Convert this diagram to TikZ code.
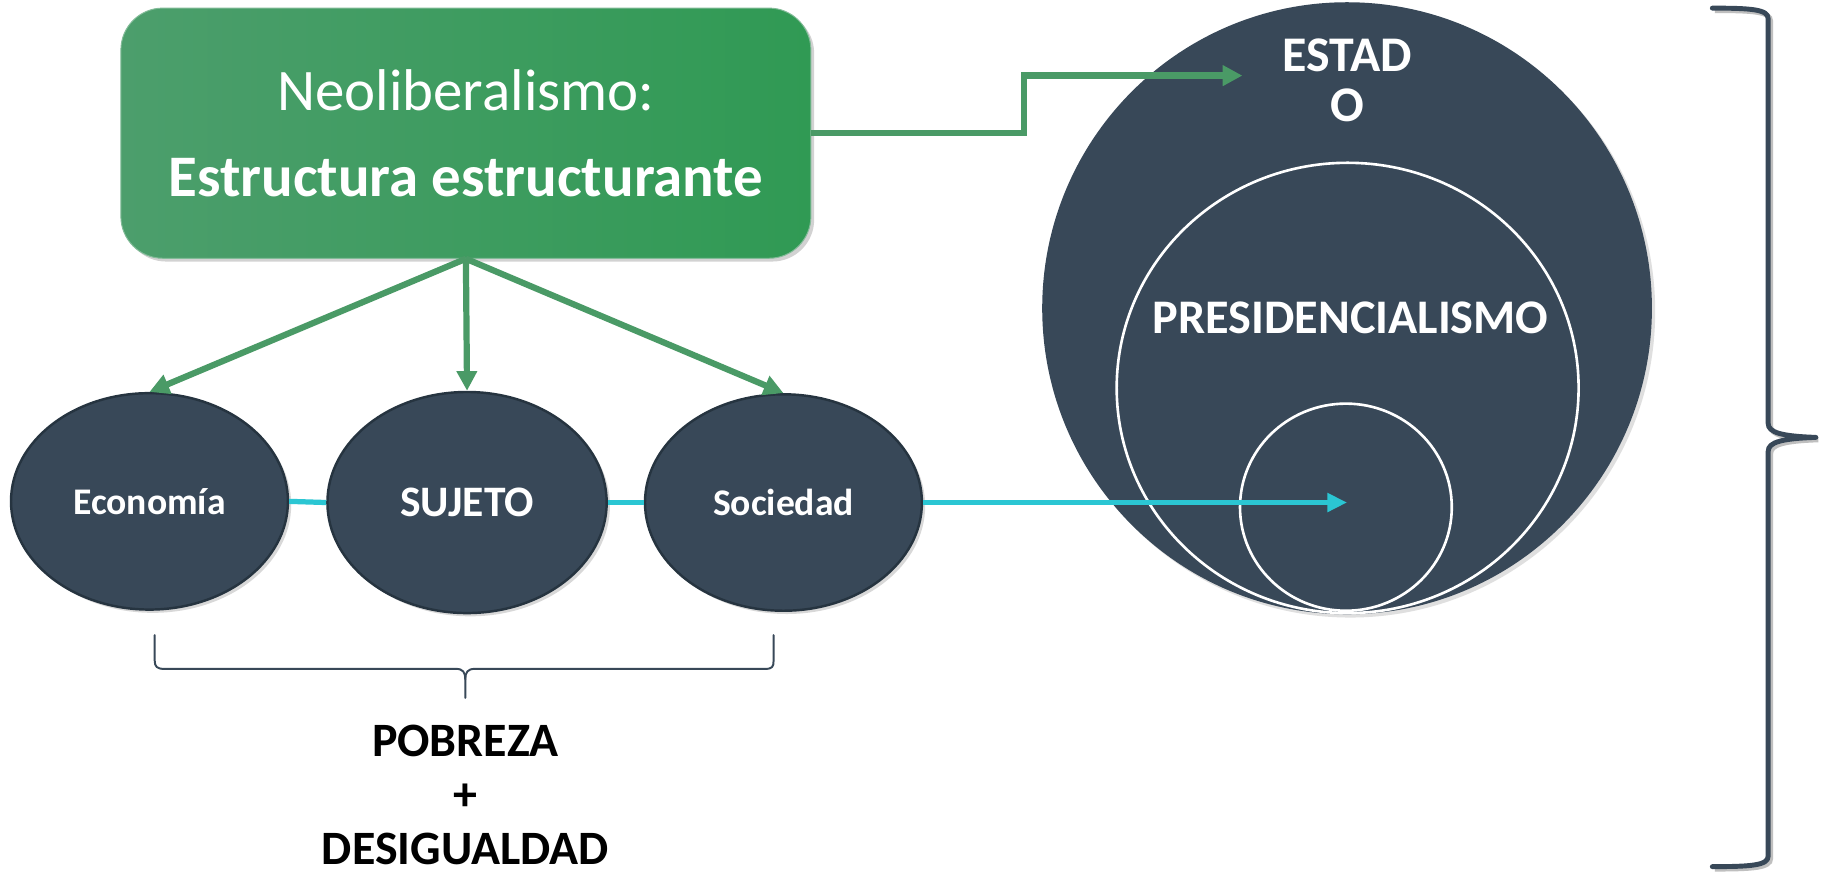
\documentclass[tikz,border=0pt]{standalone}
\usepackage{fontspec}
\setmainfont{Carlito}
\usetikzlibrary{arrows.meta,shapes.geometric,shadows}
\definecolor{slate}{HTML}{384858}
\definecolor{slateedge}{HTML}{263440}
\definecolor{gA}{HTML}{4C9E6C}
\definecolor{gB}{HTML}{309A54}
\definecolor{garrow}{HTML}{4A9A66}
\definecolor{cyanl}{HTML}{2BC6D3}
\begin{document}
\begin{tikzpicture}[x=0.025cm,y=-0.025cm,
  greenbox/.style={rounded corners=0.9cm, left color=gA, right color=gB, draw=gA!70!white, line width=0.6pt,
    minimum width=14.825cm, minimum height=5.375cm, inner sep=0pt, text=white, align=center,
    drop shadow={shadow xshift=2pt, shadow yshift=-2pt, opacity=0.35},
    font=\fontsize{36}{53}\selectfont},
  oval/.style={ellipse, fill=slate, draw=slateedge, line width=1.5pt, minimum width=5.95cm, minimum height=4.65cm,
    inner sep=0pt, text=white, drop shadow={shadow xshift=2pt, shadow yshift=-2pt, opacity=0.3}},
  ringw/.style={ellipse, draw=white, line width=1.6pt, inner sep=0pt},
  garr/.style={draw=garrow, line width=3.8pt, -{Triangle[length=12pt,width=12pt]}},
  cline/.style={draw=cyanl, line width=3.2pt},
  wtext/.style={text=white, font=\bfseries\fontsize{29.5}{32}\selectfont, align=center, inner sep=0pt},
  btext/.style={text=black, font=\bfseries\fontsize{29.3}{33}\selectfont, align=center, inner sep=0pt},
  bracestyle/.style={draw=slate, line cap=round, line join=round},
  braceshadow/.style={preaction={draw=black!25, line width=3pt, transform canvas={shift={(1.5pt,-1.5pt)}}}}
]
\useasboundingbox[fill=white] (0,0) rectangle (1568,753);

% ESTADO circles
\node[ellipse, fill=slate, minimum width=13.1cm, minimum height=13.15cm, inner sep=0pt,
  drop shadow={shadow xshift=2pt, shadow yshift=-2pt, opacity=0.25}] (estado) at (1158,265) {};
\node[ringw, minimum width=9.925cm, minimum height=9.675cm] (presid) at (1158.5,333.5) {};
\node[ringw, minimum width=4.55cm, minimum height=4.45cm] (nucleo) at (1157,436) {};
\node[wtext, font=\bfseries\fontsize{30.5}{30.6}\selectfont] (estadotxt) at (1158,69) {ESTAD\\O};
\node[wtext] (presidtxt) at (1161,273) {PRESIDENCIALISMO};

% green box
\node[greenbox] (box) at (400.5,114.5) {Neoliberalismo:\\\textbf{Estructura estructurante}};

% ellipses
\node[oval, font=\bfseries\fontsize{23}{26}\selectfont] (eco) at (128.5,431) {Economía};
\node[oval, font=\bfseries\fontsize{26.6}{28}\selectfont, minimum width=6.0cm, minimum height=4.75cm] (suj) at (401.5,432) {SUJETO};
\node[oval, font=\bfseries\fontsize{23}{26}\selectfont] (soc) at (673.5,432) {Sociedad};

% connectors
\coordinate (elb) at (880,65);
\coordinate (estadtip) at (1068,65);
\coordinate (tipC) at (1158,432);
\draw[garr] (box.east) -| (elb) -- (estadtip);
\draw[garr] (box.south) -- (eco.north);
\draw[garr] (box.south) -- (suj.north);
\draw[garr] (box.south) -- (soc.north);
\draw[cline] (eco.east) -- (suj.west);
\draw[cline] (suj.east) -- (soc.west);
\draw[cline, -{Triangle[length=12pt,width=11pt]}] (soc.east) -- (tipC);

% bottom brace
\draw[bracestyle, line width=1.2pt]
  (133,546) -- (133,568) .. controls (133,573) and (135,575) .. (141,575) -- (392,575)
  .. controls (398,575) and (400,578) .. (400,584) -- (400,600);
\draw[bracestyle, line width=1.2pt]
  (400,584) .. controls (400,578) and (402,575) .. (408,575) -- (658,575)
  .. controls (664,575) and (665,573) .. (665,568) -- (665,546);
\node[btext] (pobreza) at (400,683) {POBREZA\\+\\DESIGUALDAD};

% right brace
\draw[bracestyle, line width=3pt, braceshadow]
  (1472,7) .. controls (1505,7) and (1520,8) .. (1520,16) -- (1520,364)
  .. controls (1520,372) and (1532,375) .. (1561,376)
  .. controls (1532,377) and (1520,380) .. (1520,388) -- (1520,736)
  .. controls (1520,744) and (1505,745) .. (1472,745);
\end{tikzpicture}
\end{document}
